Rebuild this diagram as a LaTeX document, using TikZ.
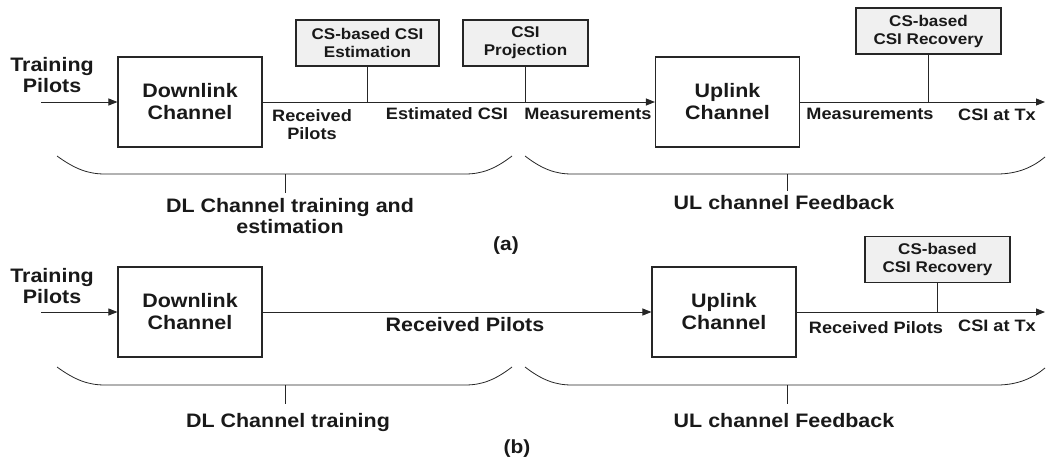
\documentclass[tikz,border=0pt]{standalone}
\usepackage{fontspec}
\setmainfont{Liberation Sans}[FakeStretch=1.1]
\usetikzlibrary{arrows.meta}

\begin{document}
\begin{tikzpicture}[x=1pt,y=-1pt,
  every node/.style={inner sep=0pt, text=black!90},
  chan/.style={draw=black!85, line width=1.1pt, minimum width=144pt, minimum height=90pt,
    align=center, font=\bfseries\fontsize{19.5}{22}\selectfont},
  proc/.style={draw=black!85, fill=black!6, line width=1.1pt, minimum height=46pt,
    align=center, font=\bfseries\fontsize{15.5}{18}\selectfont},
  big/.style={font=\bfseries\fontsize{19.5}{21}\selectfont, align=center},
  lab/.style={font=\bfseries\fontsize{16.5}{18}\selectfont, align=center},
  subcap/.style={font=\bfseries\fontsize{19}{20}\selectfont},
  wire/.style={draw=black!85, line width=0.9pt},
  flow/.style={wire, -{Triangle[length=9pt,width=7pt]}},
  brace/.style={draw=black!85, line width=0.8pt},
]
\useasboundingbox (0,0) rectangle (1046,461);

% ---------------- (a) DL training + UL feedback of measurements ----------------
\node[big, anchor=north] (tpa) at (52,57) {Training\\Pilots};
\coordinate (ina) at (41,102);
\node[chan] (dla) at (190,102) {Downlink\\Channel};
\node[chan] (ula) at (727.5,102) {Uplink\\Channel};
\node[proc, minimum width=143pt] (est) at (367.5,43) {CS-based CSI\\Estimation};
\node[proc, minimum width=125pt] (proj) at (525.5,43) {CSI\\Projection};
\node[proc, minimum width=145pt] (reca) at (928.5,31) {CS-based\\CSI Recovery};
\coordinate (outa) at (1045,102);

\draw[flow] (ina) -- (dla.west);
\draw[flow] (dla.east) -- (ula.west);
\draw[flow] (ula.east) -- (outa);
\draw[wire] (est.south) -- (est.south |- dla.east);
\draw[wire] (proj.south) -- (proj.south |- dla.east);
\draw[wire] (reca.south) -- (reca.south |- ula.east);

\node[lab, anchor=north] (rpa) at (312,109) {Received\\Pilots};
\node[lab, anchor=base] (eca) at (447,119) {Estimated CSI};
\node[lab, anchor=base] (mea) at (588,119) {Measurements};
\node[lab, anchor=base] (meb) at (870,119) {Measurements};
\node[lab, anchor=base] (txa) at (997,120) {CSI at Tx};

% braces grouping the two stages
\draw[brace] (57,156) .. controls (75,169) and (88,174) .. (105,174) -- (465,174)
  .. controls (482,174) and (495,169) .. (512,156);
\draw[brace] (525,156) .. controls (542,169) and (555,174) .. (572,174) -- (997,174)
  .. controls (1018,174) and (1033,167) .. (1045,157);
\coordinate (dlka) at (285,174);
\coordinate (ulka) at (787,174);
\node[big, anchor=north] (dlta) at (290,198) {DL Channel training and\\estimation};
\node[big, anchor=base] (ulta) at (784,209) {UL channel Feedback};
\draw[brace] (dlka) -- ++(0,19);
\draw[brace] (ulka) -- ++(0,17);
\node[subcap, anchor=base] (capa) at (506,250) {(a)};

% ---------------- (b) UL feedback of the received pilots ----------------
\node[big, anchor=north] (tpb) at (52,268) {Training\\Pilots};
\coordinate (inb) at (41,312);
\node[chan] (dlb) at (190,312) {Downlink\\Channel};
\node[chan] (ulb) at (724,312) {Uplink\\Channel};
\node[proc, minimum width=145pt] (recb) at (937.5,259.5) {CS-based\\CSI Recovery};
\coordinate (outb) at (1045,312);

\draw[flow] (inb) -- (dlb.west);
\draw[flow] (dlb.east) -- (ulb.west);
\draw[flow] (ulb.east) -- (outb);
\draw[wire] (recb.south) -- (recb.south |- ulb.east);

\node[big, anchor=base] (rpb) at (465,331) {Received Pilots};
\node[lab, anchor=base] (rpc) at (876,333) {Received Pilots};
\node[lab, anchor=base] (txb) at (997,331) {CSI at Tx};

\draw[brace] (57,367) .. controls (75,380) and (88,385) .. (105,385) -- (465,385)
  .. controls (482,385) and (495,380) .. (512,367);
\draw[brace] (525,367) .. controls (542,380) and (555,385) .. (572,385) -- (997,385)
  .. controls (1018,385) and (1033,378) .. (1045,368);
\coordinate (dlkb) at (285,385);
\coordinate (ulkb) at (787,385);
\node[big, anchor=base] (dltb) at (288,427) {DL Channel training};
\node[big, anchor=base] (ultb) at (784,427) {UL channel Feedback};
\draw[brace] (dlkb) -- ++(0,19);
\draw[brace] (ulkb) -- ++(0,19);
\node[subcap, anchor=base] (capb) at (517,453) {(b)};
\end{tikzpicture}
\end{document}
